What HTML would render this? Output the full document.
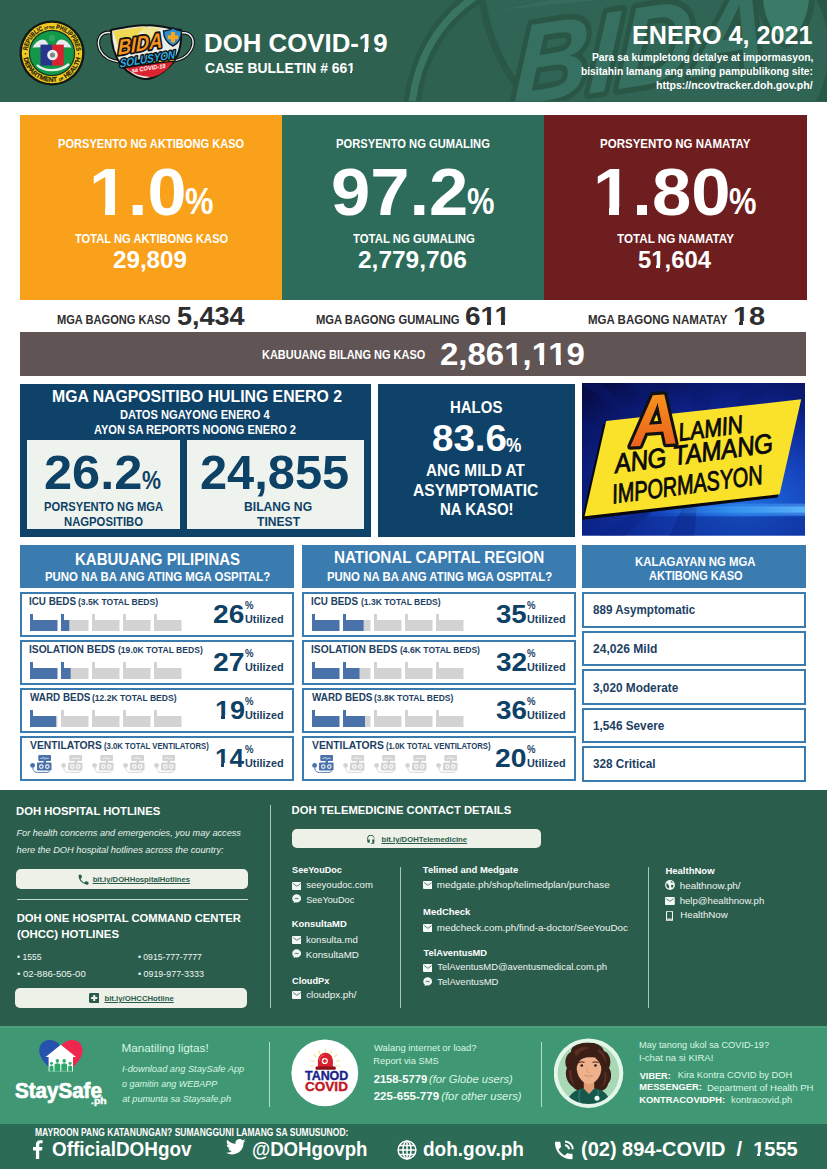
<!DOCTYPE html>
<html>
<head>
<meta charset="utf-8">
<title>DOH COVID-19 Case Bulletin 661</title>
<style>
*{margin:0;padding:0;box-sizing:border-box;}
html,body{width:827px;height:1169px;overflow:hidden;background:#fff;}
body{font-family:"Liberation Sans",sans-serif;position:relative;}
.a{position:absolute;}
.t{position:absolute;white-space:nowrap;font-weight:bold;line-height:1;transform-origin:0 50%;}
.row{position:absolute;border:2px solid #3b7cb0;background:#fff;}
.bed{position:absolute;width:27.5px;height:17px;}
.btn{position:absolute;background:#eef1e7;border-radius:5px;}
.vl{position:absolute;width:1px;background:#a9c7b9;}

</style>
</head>
<body>
<div class="a" style="left:0;top:0;width:827px;height:101.6px;background:#2f6151;overflow:hidden;">
<svg class="a" style="left:400px;top:0" width="427" height="101" viewBox="400 0 427 101">
<path d="M482 -2 C 488 40, 505 75, 532 103 L 830 103 L 830 -2 Z" fill="#306454"/>
<path d="M482 -2 C 488 40, 505 75, 532 103" fill="none" stroke="#2a5848" stroke-width="7"/>
<path d="M412 103 C 418 55, 440 20, 476 -4" fill="none" stroke="#2a5848" stroke-width="17"/>
<path d="M412 103 C 418 55, 440 20, 476 -4" fill="none" stroke="#3a7562" stroke-width="7"/>
<path d="M500 10 L 620 -2 L 560 -2 Z" fill="#3a7461" opacity="0.5"/>
<g font-family="Liberation Sans, sans-serif" font-weight="bold" font-style="italic">
<text x="512" y="106" font-size="112" fill="#2a5646" stroke="#2a5646" stroke-width="11" stroke-linejoin="round" transform="translate(512 106) rotate(-9) skewX(-12) translate(-512 -106)" textLength="258" lengthAdjust="spacingAndGlyphs">BIDA</text>
<text x="512" y="106" font-size="112" fill="#357060" transform="translate(512 106) rotate(-9) skewX(-12) translate(-512 -106)" textLength="258" lengthAdjust="spacingAndGlyphs">BIDA</text>
</g>
<path d="M760 -5 L 812 -5 C 812 20, 800 38, 786 46 C 772 38, 760 20, 760 -5 Z" fill="#3a7a66" stroke="#2a5848" stroke-width="6"/>
<path d="M822 -4 C 840 30, 840 70, 822 104" fill="none" stroke="#2a5848" stroke-width="14"/>
</svg>
<svg class="a" style="left:16px;top:17px" width="72" height="72" viewBox="-36 -36 72 72">
<circle r="32.6" fill="#121a14"/>
<circle r="30.2" fill="#f2c91f"/>
<circle r="23.2" fill="#17321f"/>
<circle r="22" fill="#13984a"/>
<defs><path id="arcT" d="M -24.5 0 A 24.5 24.5 0 0 1 24.5 0"/><path id="arcB" d="M -28.8 0 A 28.8 28.8 0 0 0 28.8 0"/></defs>
<text font-family="Liberation Sans, sans-serif" font-weight="bold" font-size="6.6" fill="#221d0a" stroke="#221d0a" stroke-width="0.2"><textPath href="#arcT" startOffset="2.5" textLength="72" lengthAdjust="spacingAndGlyphs">REPUBLIC <tspan font-size="3.4">OF THE</tspan> PHILIPPINES</textPath></text>
<text font-family="Liberation Sans, sans-serif" font-weight="bold" font-size="6.6" fill="#221d0a" stroke="#221d0a" stroke-width="0.2"><textPath href="#arcB" startOffset="5" textLength="80.500" lengthAdjust="spacingAndGlyphs">DEPARTMENT <tspan font-size="3.4">OF</tspan> HEALTH</textPath></text>
<circle cx="-26.600" cy="0.800" r="0.800" fill="#221d0a"/><circle cx="26.600" cy="0.800" r="0.800" fill="#221d0a"/>
<path d="M-19.500 -5.500 C -14 -14.500, -7 -16, -4 -9 L -4 -6 Z" fill="#e9e9f0"/>
<path d="M19.500 -5.500 C 14 -14.500, 7 -16, 4 -9 L 4 -6 Z" fill="#e9e9f0"/>
<circle cx="0" cy="-15" r="3.2" fill="#2fa560"/>
<rect x="-11.500" y="-8.400" width="11.700" height="21" fill="#27358a"/>
<rect x="0.200" y="-8.400" width="11.600" height="21" fill="#d8232f"/>
<circle cx="0.5" cy="2" r="5.3" fill="#eceef0"/>
<circle cx="0.5" cy="2" r="2.6" fill="#7b8a86"/>
<path d="M-15 12 C -8 19, 8 19, 17 11" fill="none" stroke="#e6efe9" stroke-width="2.4"/>
</svg>
<svg class="a" style="left:92px;top:20px" width="106" height="64" viewBox="92 20 106 64">
<path d="M113 33 C 100 30, 96 40, 100 50 C 104 58, 112 61, 120 62" fill="none" stroke="#111" stroke-width="3.6"/>
<path d="M113 33 C 100 30, 96 40, 100 50 C 104 58, 112 61, 120 62" fill="none" stroke="#e8eef0" stroke-width="1.4"/>
<path d="M180 33 C 192 31, 196 41, 191 50 C 187 57, 180 60, 173 61" fill="none" stroke="#111" stroke-width="3.6"/>
<path d="M180 33 C 192 31, 196 41, 191 50 C 187 57, 180 60, 173 61" fill="none" stroke="#e8eef0" stroke-width="1.4"/>
<path d="M111 30 C 128 27, 140 24, 146 25.5 C 154 24, 168 28, 181 30 C 182 45, 178 58, 170 66 C 160 76, 150 79, 146 79 C 138 79, 128 73, 122 66 C 114 56, 111 44, 111 30 Z" fill="#e9efe6" stroke="#111" stroke-width="2"/>
<path d="M113 31 L 146 26.5 L 120 52 Z" fill="#f0d53a" opacity="0.85"/>
<path d="M140 27 L 160 28 L 150 45 Z" fill="#f3e27a" opacity="0.8"/>
<path d="M118 62 C 135 60, 160 56, 176 56 C 174 61, 172 64, 169 67 C 155 68, 135 70, 124 68 Z" fill="#0d0d12"/>
<path d="M126 68 C 140 66, 160 63, 173 62 C 168 70, 160 75, 153 77 C 145 77, 134 75, 126 68 Z" fill="#dc2430"/>
<path d="M124 66.5 C 140 63.5, 160 60.5, 174 60" fill="none" stroke="#f2d22e" stroke-width="1.6"/>
<g font-family="Liberation Sans, sans-serif" font-weight="bold" font-style="italic">
<text x="118" y="55" font-size="21" fill="#111" stroke="#111" stroke-width="3.6" stroke-linejoin="round" transform="translate(118 55.500) rotate(-10) skewX(-10) translate(-118 -55.500)" textLength="45" lengthAdjust="spacingAndGlyphs">BIDA</text>
<text x="118" y="55" font-size="21" fill="#f7931e" transform="translate(118 55.500) rotate(-10) skewX(-10) translate(-118 -55.500)" textLength="45" lengthAdjust="spacingAndGlyphs">BIDA</text>
<text x="120" y="67.5" font-size="11.5" fill="#111" stroke="#111" stroke-width="3" stroke-linejoin="round" transform="translate(120 67.500) rotate(-9.500) skewX(-8) translate(-120 -67.500)" textLength="56" lengthAdjust="spacingAndGlyphs">SOLUSYON</text>
<text x="120" y="67.5" font-size="11.5" fill="#29abe2" transform="translate(120 67.500) rotate(-9.500) skewX(-8) translate(-120 -67.500)" textLength="56" lengthAdjust="spacingAndGlyphs">SOLUSYON</text>
<text x="132" y="72.5" font-size="6" fill="#fff" transform="rotate(-8 132 72.5)" textLength="34" lengthAdjust="spacingAndGlyphs">sa COVID-19</text>
</g>
<path d="M163.5 31 C 168 30.5, 171 29.5, 173 28 C 175 29.5, 178 30.5, 181.5 31 C 181.5 38, 179 43, 173 46 C 167 43, 163.5 38, 163.5 31 Z" fill="#2e8fd0" stroke="#10202e" stroke-width="1.4"/>
<path d="M171 32 h4 v3.2 h3.2 v4 h-3.2 v3.2 h-4 v-3.2 h-3.2 v-4 h3.2 Z" fill="#f7a521"/>
</svg>

</div>
<div class="a" style="left:20px;top:115px;width:262px;height:184.5px;background:#f9a11b;"></div>
<div class="a" style="left:282px;top:115px;width:262px;height:184.5px;background:#2d6c5a;"></div>
<div class="a" style="left:544px;top:115px;width:262.8px;height:184.5px;background:#6e1e1f;"></div>
<div class="a" style="left:20px;top:332px;width:786px;height:43.700px;background:#615455;"></div>
<div class="a" style="left:20px;top:384px;width:351px;height:153px;background:#0e4268;"></div>
<div class="a" style="left:26.6px;top:440px;width:153.6px;height:89px;background:#eef3ee;"></div>
<div class="a" style="left:186.8px;top:440px;width:177px;height:89px;background:#eef3ee;"></div>
<div class="a" style="left:378px;top:384px;width:197px;height:153px;background:#0e4268;"></div>
<svg class="a" style="left:582px;top:383.2px" width="223" height="152.6" viewBox="582 383.5 224 152.5" preserveAspectRatio="none">
<defs>
<radialGradient id="abg" cx="0.72" cy="0.8" r="1.0">
<stop offset="0" stop-color="#1f6ee0"/><stop offset="0.3" stop-color="#1648c2"/><stop offset="0.62" stop-color="#0d2490"/><stop offset="1" stop-color="#070d4a"/>
</radialGradient>
<linearGradient id="aglow" x1="0" y1="0" x2="1" y2="0">
<stop offset="0" stop-color="#2a8cf0" stop-opacity="0"/><stop offset="0.5" stop-color="#3aa0f5" stop-opacity="0.75"/><stop offset="1" stop-color="#62bcff" stop-opacity="1"/>
</linearGradient>
<linearGradient id="agr" x1="0" y1="0" x2="0" y2="1"><stop offset="0" stop-color="#f9a01e"/><stop offset="1" stop-color="#e9541b"/></linearGradient>
</defs>
<rect x="582" y="383.5" width="224" height="152.5" fill="url(#abg)"/>
<g fill="#0a1a70" opacity="0.4">
<path d="M700 470 L582 384 L600 384 Z"/><path d="M700 470 L630 384 L655 384 Z"/><path d="M700 470 L690 384 L715 384 Z"/><path d="M700 470 L750 384 L775 384 Z"/>
<path d="M700 470 L806 392 L806 412 Z"/><path d="M700 470 L582 420 L582 440 Z"/><path d="M700 470 L582 480 L582 500 Z"/><path d="M700 470 L600 536 L625 536 Z"/><path d="M700 470 L670 536 L695 536 Z"/>
</g>
<rect x="650" y="504" width="156" height="4" fill="url(#aglow)" opacity="0.45"/>
<rect x="650" y="507" width="156" height="6" fill="url(#aglow)" opacity="0.9"/>
<rect x="650" y="512" width="156" height="4" fill="url(#aglow)" opacity="0.45"/>
<rect x="582" y="517" width="224" height="19" fill="#0b2a90" opacity="0.5"/>
<path d="M603.500 424.500 L800.500 402.500 L778.500 498 L581.800 520.200 Z" fill="#07070f"/>
<path d="M606.300 421.500 L802.200 399.800 L780.500 494.700 L584.600 516.700 Z" fill="#fbe22a"/>
<g font-family="Liberation Sans, sans-serif" font-style="italic" fill="#0a0a0a">
<text x="632" y="447" font-size="72" font-weight="bold" fill="#111" stroke="#111" stroke-width="6.500" stroke-linejoin="round" transform="rotate(-4 632 447)" textLength="49" lengthAdjust="spacingAndGlyphs">A</text>
<text x="632" y="447" font-size="72" font-weight="bold" fill="url(#agr)" transform="rotate(-4 632 447)" textLength="49" lengthAdjust="spacingAndGlyphs">A</text>
<g stroke="#0a0a0a" stroke-width="0.900">
<text x="680" y="441.500" font-size="25" transform="rotate(-7.500 680 441.500)" textLength="65" lengthAdjust="spacingAndGlyphs">LAMIN</text>
<text x="616" y="473.500" font-size="27" transform="rotate(-7.500 616 473.500)" textLength="160" lengthAdjust="spacingAndGlyphs">ANG TAMANG</text>
<text x="613.500" y="504" font-size="27" transform="rotate(-7.500 613.500 504)" textLength="152" lengthAdjust="spacingAndGlyphs">IMPORMASYON</text>
</g>
</g>
</svg>

<div class="a" style="left:20px;top:545px;width:274px;height:42.5px;background:#3b7cb0;"></div>
<div class="a" style="left:302px;top:545px;width:274px;height:42.5px;background:#3b7cb0;"></div>
<div class="a" style="left:582px;top:545px;width:224px;height:42.5px;background:#3b7cb0;"></div>
<div class="row" style="left:20px;top:592px;width:274px;height:45px;"></div>
<svg class="a" style="left:30.0px;top:613.8px" width="27.5" height="17" viewBox="0 0 27.5 17"><path d="M0 0 H3 V6 H27.5 V17 H0 Z" fill="#4a72aa"/></svg>
<svg class="a" style="left:61.1px;top:613.8px" width="27.5" height="17" viewBox="0 0 27.5 17"><path d="M0 0 H3 V6 H27.5 V17 H0 Z" fill="#d3d3d3"/><path d="M0 0 H3 V6 H8.25 V17 H0 Z" fill="#4a72aa"/></svg>
<svg class="a" style="left:92.2px;top:613.8px" width="27.5" height="17" viewBox="0 0 27.5 17"><path d="M0 0 H3 V6 H27.5 V17 H0 Z" fill="#d3d3d3"/></svg>
<svg class="a" style="left:123.3px;top:613.8px" width="27.5" height="17" viewBox="0 0 27.5 17"><path d="M0 0 H3 V6 H27.5 V17 H0 Z" fill="#d3d3d3"/></svg>
<svg class="a" style="left:154.4px;top:613.8px" width="27.5" height="17" viewBox="0 0 27.5 17"><path d="M0 0 H3 V6 H27.5 V17 H0 Z" fill="#d3d3d3"/></svg>
<div class="row" style="left:20px;top:640px;width:274px;height:45px;"></div>
<svg class="a" style="left:30.0px;top:661.8px" width="27.5" height="17" viewBox="0 0 27.5 17"><path d="M0 0 H3 V6 H27.5 V17 H0 Z" fill="#4a72aa"/></svg>
<svg class="a" style="left:61.1px;top:661.8px" width="27.5" height="17" viewBox="0 0 27.5 17"><path d="M0 0 H3 V6 H27.5 V17 H0 Z" fill="#d3d3d3"/><path d="M0 0 H3 V6 H9.63 V17 H0 Z" fill="#4a72aa"/></svg>
<svg class="a" style="left:92.2px;top:661.8px" width="27.5" height="17" viewBox="0 0 27.5 17"><path d="M0 0 H3 V6 H27.5 V17 H0 Z" fill="#d3d3d3"/></svg>
<svg class="a" style="left:123.3px;top:661.8px" width="27.5" height="17" viewBox="0 0 27.5 17"><path d="M0 0 H3 V6 H27.5 V17 H0 Z" fill="#d3d3d3"/></svg>
<svg class="a" style="left:154.4px;top:661.8px" width="27.5" height="17" viewBox="0 0 27.5 17"><path d="M0 0 H3 V6 H27.5 V17 H0 Z" fill="#d3d3d3"/></svg>
<div class="row" style="left:20px;top:688px;width:274px;height:45px;"></div>
<svg class="a" style="left:30.0px;top:709.8px" width="27.5" height="17" viewBox="0 0 27.5 17"><path d="M0 0 H3 V6 H27.5 V17 H0 Z" fill="#d3d3d3"/><path d="M0 0 H3 V6 H26.12 V17 H0 Z" fill="#4a72aa"/></svg>
<svg class="a" style="left:61.1px;top:709.8px" width="27.5" height="17" viewBox="0 0 27.5 17"><path d="M0 0 H3 V6 H27.5 V17 H0 Z" fill="#d3d3d3"/></svg>
<svg class="a" style="left:92.2px;top:709.8px" width="27.5" height="17" viewBox="0 0 27.5 17"><path d="M0 0 H3 V6 H27.5 V17 H0 Z" fill="#d3d3d3"/></svg>
<svg class="a" style="left:123.3px;top:709.8px" width="27.5" height="17" viewBox="0 0 27.5 17"><path d="M0 0 H3 V6 H27.5 V17 H0 Z" fill="#d3d3d3"/></svg>
<svg class="a" style="left:154.4px;top:709.8px" width="27.5" height="17" viewBox="0 0 27.5 17"><path d="M0 0 H3 V6 H27.5 V17 H0 Z" fill="#d3d3d3"/></svg>
<div class="row" style="left:20px;top:736px;width:274px;height:45px;"></div>
<svg class="a" style="left:30.0px;top:755.1px" width="24" height="19" viewBox="0 0 24 19"><rect x="8.3" y="0" width="12.7" height="6" rx="0.8" fill="#4a72aa"/><path d="M10.3 3.300 h2.200 l0.900 -1.300 l1.300 2.300 l0.900 -1 h3.200" fill="none" stroke="#fff" stroke-width="0.700" opacity="0.900"/><rect x="13.6" y="5.800" width="2.400" height="2.200" fill="#4a72aa"/><rect x="7" y="7.600" width="14.500" height="8" rx="1" fill="#4a72aa"/><circle cx="11.300" cy="11.600" r="2.300" fill="#fff" opacity="0.920"/><circle cx="17.300" cy="11.600" r="2.300" fill="#fff" opacity="0.920"/><circle cx="11.300" cy="11.600" r="1.200" fill="#4a72aa"/><circle cx="17.300" cy="11.600" r="1.200" fill="#4a72aa"/><circle cx="2.600" cy="10.400" r="2.400" fill="#4a72aa"/><path d="M2.800 12.300 C 2.800 17.600, 6 17.500, 10 17.400 L 17 17.400 C 19 17.400, 19.300 16.500, 19.300 15.500" fill="none" stroke="#4a72aa" stroke-width="0.900"/></svg>
<svg class="a" style="left:61.1px;top:755.1px" width="24" height="19" viewBox="0 0 24 19"><rect x="8.3" y="0" width="12.7" height="6" rx="0.8" fill="#d3d3d3"/><path d="M10.3 3.300 h2.200 l0.900 -1.300 l1.300 2.300 l0.900 -1 h3.200" fill="none" stroke="#fff" stroke-width="0.700" opacity="0.900"/><rect x="13.6" y="5.800" width="2.400" height="2.200" fill="#d3d3d3"/><rect x="7" y="7.600" width="14.500" height="8" rx="1" fill="#d3d3d3"/><circle cx="11.300" cy="11.600" r="2.300" fill="#fff" opacity="0.920"/><circle cx="17.300" cy="11.600" r="2.300" fill="#fff" opacity="0.920"/><circle cx="11.300" cy="11.600" r="1.200" fill="#d3d3d3"/><circle cx="17.300" cy="11.600" r="1.200" fill="#d3d3d3"/><circle cx="2.600" cy="10.400" r="2.400" fill="#d3d3d3"/><path d="M2.800 12.300 C 2.800 17.600, 6 17.500, 10 17.400 L 17 17.400 C 19 17.400, 19.300 16.500, 19.300 15.500" fill="none" stroke="#d3d3d3" stroke-width="0.900"/></svg>
<svg class="a" style="left:92.2px;top:755.1px" width="24" height="19" viewBox="0 0 24 19"><rect x="8.3" y="0" width="12.7" height="6" rx="0.8" fill="#d3d3d3"/><path d="M10.3 3.300 h2.200 l0.900 -1.300 l1.300 2.300 l0.900 -1 h3.200" fill="none" stroke="#fff" stroke-width="0.700" opacity="0.900"/><rect x="13.6" y="5.800" width="2.400" height="2.200" fill="#d3d3d3"/><rect x="7" y="7.600" width="14.500" height="8" rx="1" fill="#d3d3d3"/><circle cx="11.300" cy="11.600" r="2.300" fill="#fff" opacity="0.920"/><circle cx="17.300" cy="11.600" r="2.300" fill="#fff" opacity="0.920"/><circle cx="11.300" cy="11.600" r="1.200" fill="#d3d3d3"/><circle cx="17.300" cy="11.600" r="1.200" fill="#d3d3d3"/><circle cx="2.600" cy="10.400" r="2.400" fill="#d3d3d3"/><path d="M2.800 12.300 C 2.800 17.600, 6 17.500, 10 17.400 L 17 17.400 C 19 17.400, 19.300 16.500, 19.300 15.500" fill="none" stroke="#d3d3d3" stroke-width="0.900"/></svg>
<svg class="a" style="left:123.3px;top:755.1px" width="24" height="19" viewBox="0 0 24 19"><rect x="8.3" y="0" width="12.7" height="6" rx="0.8" fill="#d3d3d3"/><path d="M10.3 3.300 h2.200 l0.900 -1.300 l1.300 2.300 l0.900 -1 h3.200" fill="none" stroke="#fff" stroke-width="0.700" opacity="0.900"/><rect x="13.6" y="5.800" width="2.400" height="2.200" fill="#d3d3d3"/><rect x="7" y="7.600" width="14.500" height="8" rx="1" fill="#d3d3d3"/><circle cx="11.300" cy="11.600" r="2.300" fill="#fff" opacity="0.920"/><circle cx="17.300" cy="11.600" r="2.300" fill="#fff" opacity="0.920"/><circle cx="11.300" cy="11.600" r="1.200" fill="#d3d3d3"/><circle cx="17.300" cy="11.600" r="1.200" fill="#d3d3d3"/><circle cx="2.600" cy="10.400" r="2.400" fill="#d3d3d3"/><path d="M2.800 12.300 C 2.800 17.600, 6 17.500, 10 17.400 L 17 17.400 C 19 17.400, 19.300 16.500, 19.300 15.500" fill="none" stroke="#d3d3d3" stroke-width="0.900"/></svg>
<svg class="a" style="left:154.4px;top:755.1px" width="24" height="19" viewBox="0 0 24 19"><rect x="8.3" y="0" width="12.7" height="6" rx="0.8" fill="#d3d3d3"/><path d="M10.3 3.300 h2.200 l0.900 -1.300 l1.300 2.300 l0.900 -1 h3.200" fill="none" stroke="#fff" stroke-width="0.700" opacity="0.900"/><rect x="13.6" y="5.800" width="2.400" height="2.200" fill="#d3d3d3"/><rect x="7" y="7.600" width="14.500" height="8" rx="1" fill="#d3d3d3"/><circle cx="11.300" cy="11.600" r="2.300" fill="#fff" opacity="0.920"/><circle cx="17.300" cy="11.600" r="2.300" fill="#fff" opacity="0.920"/><circle cx="11.300" cy="11.600" r="1.200" fill="#d3d3d3"/><circle cx="17.300" cy="11.600" r="1.200" fill="#d3d3d3"/><circle cx="2.600" cy="10.400" r="2.400" fill="#d3d3d3"/><path d="M2.800 12.300 C 2.800 17.600, 6 17.500, 10 17.400 L 17 17.400 C 19 17.400, 19.300 16.500, 19.300 15.500" fill="none" stroke="#d3d3d3" stroke-width="0.900"/></svg>
<div class="row" style="left:302px;top:592px;width:274px;height:45px;"></div>
<svg class="a" style="left:312.0px;top:613.8px" width="27.5" height="17" viewBox="0 0 27.5 17"><path d="M0 0 H3 V6 H27.5 V17 H0 Z" fill="#4a72aa"/></svg>
<svg class="a" style="left:343.1px;top:613.8px" width="27.5" height="17" viewBox="0 0 27.5 17"><path d="M0 0 H3 V6 H27.5 V17 H0 Z" fill="#d3d3d3"/><path d="M0 0 H3 V6 H20.62 V17 H0 Z" fill="#4a72aa"/></svg>
<svg class="a" style="left:374.2px;top:613.8px" width="27.5" height="17" viewBox="0 0 27.5 17"><path d="M0 0 H3 V6 H27.5 V17 H0 Z" fill="#d3d3d3"/></svg>
<svg class="a" style="left:405.3px;top:613.8px" width="27.5" height="17" viewBox="0 0 27.5 17"><path d="M0 0 H3 V6 H27.5 V17 H0 Z" fill="#d3d3d3"/></svg>
<svg class="a" style="left:436.4px;top:613.8px" width="27.5" height="17" viewBox="0 0 27.5 17"><path d="M0 0 H3 V6 H27.5 V17 H0 Z" fill="#d3d3d3"/></svg>
<div class="row" style="left:302px;top:640px;width:274px;height:45px;"></div>
<svg class="a" style="left:312.0px;top:661.8px" width="27.5" height="17" viewBox="0 0 27.5 17"><path d="M0 0 H3 V6 H27.5 V17 H0 Z" fill="#4a72aa"/></svg>
<svg class="a" style="left:343.1px;top:661.8px" width="27.5" height="17" viewBox="0 0 27.5 17"><path d="M0 0 H3 V6 H27.5 V17 H0 Z" fill="#d3d3d3"/><path d="M0 0 H3 V6 H16.50 V17 H0 Z" fill="#4a72aa"/></svg>
<svg class="a" style="left:374.2px;top:661.8px" width="27.5" height="17" viewBox="0 0 27.5 17"><path d="M0 0 H3 V6 H27.5 V17 H0 Z" fill="#d3d3d3"/></svg>
<svg class="a" style="left:405.3px;top:661.8px" width="27.5" height="17" viewBox="0 0 27.5 17"><path d="M0 0 H3 V6 H27.5 V17 H0 Z" fill="#d3d3d3"/></svg>
<svg class="a" style="left:436.4px;top:661.8px" width="27.5" height="17" viewBox="0 0 27.5 17"><path d="M0 0 H3 V6 H27.5 V17 H0 Z" fill="#d3d3d3"/></svg>
<div class="row" style="left:302px;top:688px;width:274px;height:45px;"></div>
<svg class="a" style="left:312.0px;top:709.8px" width="27.5" height="17" viewBox="0 0 27.5 17"><path d="M0 0 H3 V6 H27.5 V17 H0 Z" fill="#4a72aa"/></svg>
<svg class="a" style="left:343.1px;top:709.8px" width="27.5" height="17" viewBox="0 0 27.5 17"><path d="M0 0 H3 V6 H27.5 V17 H0 Z" fill="#d3d3d3"/><path d="M0 0 H3 V6 H22.00 V17 H0 Z" fill="#4a72aa"/></svg>
<svg class="a" style="left:374.2px;top:709.8px" width="27.5" height="17" viewBox="0 0 27.5 17"><path d="M0 0 H3 V6 H27.5 V17 H0 Z" fill="#d3d3d3"/></svg>
<svg class="a" style="left:405.3px;top:709.8px" width="27.5" height="17" viewBox="0 0 27.5 17"><path d="M0 0 H3 V6 H27.5 V17 H0 Z" fill="#d3d3d3"/></svg>
<svg class="a" style="left:436.4px;top:709.8px" width="27.5" height="17" viewBox="0 0 27.5 17"><path d="M0 0 H3 V6 H27.5 V17 H0 Z" fill="#d3d3d3"/></svg>
<div class="row" style="left:302px;top:736px;width:274px;height:45px;"></div>
<svg class="a" style="left:312.0px;top:755.1px" width="24" height="19" viewBox="0 0 24 19"><rect x="8.3" y="0" width="12.7" height="6" rx="0.8" fill="#4a72aa"/><path d="M10.3 3.300 h2.200 l0.900 -1.300 l1.300 2.300 l0.900 -1 h3.200" fill="none" stroke="#fff" stroke-width="0.700" opacity="0.900"/><rect x="13.6" y="5.800" width="2.400" height="2.200" fill="#4a72aa"/><rect x="7" y="7.600" width="14.500" height="8" rx="1" fill="#4a72aa"/><circle cx="11.300" cy="11.600" r="2.300" fill="#fff" opacity="0.920"/><circle cx="17.300" cy="11.600" r="2.300" fill="#fff" opacity="0.920"/><circle cx="11.300" cy="11.600" r="1.200" fill="#4a72aa"/><circle cx="17.300" cy="11.600" r="1.200" fill="#4a72aa"/><circle cx="2.600" cy="10.400" r="2.400" fill="#4a72aa"/><path d="M2.800 12.300 C 2.800 17.600, 6 17.500, 10 17.400 L 17 17.400 C 19 17.400, 19.300 16.500, 19.300 15.500" fill="none" stroke="#4a72aa" stroke-width="0.900"/></svg>
<svg class="a" style="left:343.1px;top:755.1px" width="24" height="19" viewBox="0 0 24 19"><rect x="8.3" y="0" width="12.7" height="6" rx="0.8" fill="#d3d3d3"/><path d="M10.3 3.300 h2.200 l0.900 -1.300 l1.300 2.300 l0.900 -1 h3.200" fill="none" stroke="#fff" stroke-width="0.700" opacity="0.900"/><rect x="13.6" y="5.800" width="2.400" height="2.200" fill="#d3d3d3"/><rect x="7" y="7.600" width="14.500" height="8" rx="1" fill="#d3d3d3"/><circle cx="11.300" cy="11.600" r="2.300" fill="#fff" opacity="0.920"/><circle cx="17.300" cy="11.600" r="2.300" fill="#fff" opacity="0.920"/><circle cx="11.300" cy="11.600" r="1.200" fill="#d3d3d3"/><circle cx="17.300" cy="11.600" r="1.200" fill="#d3d3d3"/><circle cx="2.600" cy="10.400" r="2.400" fill="#d3d3d3"/><path d="M2.800 12.300 C 2.800 17.600, 6 17.500, 10 17.400 L 17 17.400 C 19 17.400, 19.300 16.500, 19.300 15.500" fill="none" stroke="#d3d3d3" stroke-width="0.900"/></svg>
<svg class="a" style="left:374.2px;top:755.1px" width="24" height="19" viewBox="0 0 24 19"><rect x="8.3" y="0" width="12.7" height="6" rx="0.8" fill="#d3d3d3"/><path d="M10.3 3.300 h2.200 l0.900 -1.300 l1.300 2.300 l0.900 -1 h3.200" fill="none" stroke="#fff" stroke-width="0.700" opacity="0.900"/><rect x="13.6" y="5.800" width="2.400" height="2.200" fill="#d3d3d3"/><rect x="7" y="7.600" width="14.500" height="8" rx="1" fill="#d3d3d3"/><circle cx="11.300" cy="11.600" r="2.300" fill="#fff" opacity="0.920"/><circle cx="17.300" cy="11.600" r="2.300" fill="#fff" opacity="0.920"/><circle cx="11.300" cy="11.600" r="1.200" fill="#d3d3d3"/><circle cx="17.300" cy="11.600" r="1.200" fill="#d3d3d3"/><circle cx="2.600" cy="10.400" r="2.400" fill="#d3d3d3"/><path d="M2.800 12.300 C 2.800 17.600, 6 17.500, 10 17.400 L 17 17.400 C 19 17.400, 19.300 16.500, 19.300 15.500" fill="none" stroke="#d3d3d3" stroke-width="0.900"/></svg>
<svg class="a" style="left:405.3px;top:755.1px" width="24" height="19" viewBox="0 0 24 19"><rect x="8.3" y="0" width="12.7" height="6" rx="0.8" fill="#d3d3d3"/><path d="M10.3 3.300 h2.200 l0.900 -1.300 l1.300 2.300 l0.900 -1 h3.200" fill="none" stroke="#fff" stroke-width="0.700" opacity="0.900"/><rect x="13.6" y="5.800" width="2.400" height="2.200" fill="#d3d3d3"/><rect x="7" y="7.600" width="14.500" height="8" rx="1" fill="#d3d3d3"/><circle cx="11.300" cy="11.600" r="2.300" fill="#fff" opacity="0.920"/><circle cx="17.300" cy="11.600" r="2.300" fill="#fff" opacity="0.920"/><circle cx="11.300" cy="11.600" r="1.200" fill="#d3d3d3"/><circle cx="17.300" cy="11.600" r="1.200" fill="#d3d3d3"/><circle cx="2.600" cy="10.400" r="2.400" fill="#d3d3d3"/><path d="M2.800 12.300 C 2.800 17.600, 6 17.500, 10 17.400 L 17 17.400 C 19 17.400, 19.300 16.500, 19.300 15.500" fill="none" stroke="#d3d3d3" stroke-width="0.900"/></svg>
<svg class="a" style="left:436.4px;top:755.1px" width="24" height="19" viewBox="0 0 24 19"><rect x="8.3" y="0" width="12.7" height="6" rx="0.8" fill="#d3d3d3"/><path d="M10.3 3.300 h2.200 l0.900 -1.300 l1.300 2.300 l0.900 -1 h3.200" fill="none" stroke="#fff" stroke-width="0.700" opacity="0.900"/><rect x="13.6" y="5.800" width="2.400" height="2.200" fill="#d3d3d3"/><rect x="7" y="7.600" width="14.500" height="8" rx="1" fill="#d3d3d3"/><circle cx="11.300" cy="11.600" r="2.300" fill="#fff" opacity="0.920"/><circle cx="17.300" cy="11.600" r="2.300" fill="#fff" opacity="0.920"/><circle cx="11.300" cy="11.600" r="1.200" fill="#d3d3d3"/><circle cx="17.300" cy="11.600" r="1.200" fill="#d3d3d3"/><circle cx="2.600" cy="10.400" r="2.400" fill="#d3d3d3"/><path d="M2.800 12.300 C 2.800 17.600, 6 17.500, 10 17.400 L 17 17.400 C 19 17.400, 19.300 16.500, 19.300 15.500" fill="none" stroke="#d3d3d3" stroke-width="0.900"/></svg>
<div class="row" style="left:582px;top:592.0px;width:224px;height:35.6px;"></div>
<div class="row" style="left:582px;top:630.5px;width:224px;height:35.6px;"></div>
<div class="row" style="left:582px;top:669.0px;width:224px;height:35.6px;"></div>
<div class="row" style="left:582px;top:707.5px;width:224px;height:35.6px;"></div>
<div class="row" style="left:582px;top:746.0px;width:224px;height:35.6px;"></div>
<div class="a" style="left:0;top:790px;width:827px;height:237px;background:#2b5d4d;"></div>
<div class="a" style="left:0;top:1026px;width:827px;height:98px;background:#3f9873;"></div>
<div class="a" style="left:0;top:1026px;width:827px;height:1.5px;background:#4ba07e;"></div>
<div class="a" style="left:0;top:1124px;width:827px;height:45px;background:#2c6b56;"></div>
<!-- buttons -->
<div class="btn" style="left:15.7px;top:868.8px;width:232.4px;height:20px;"></div>
<div class="btn" style="left:14.7px;top:988.4px;width:232.4px;height:19.8px;"></div>
<div class="btn" style="left:291.6px;top:829.2px;width:249.5px;height:19px;"></div>
<!-- lines -->
<div class="a" style="left:17px;top:899.4px;width:231px;height:1px;background:#c5d9cd;"></div>
<div class="vl" style="left:270px;top:804.5px;height:203.5px;"></div>
<div class="vl" style="left:400.4px;top:867px;height:141px;"></div>
<div class="vl" style="left:648.3px;top:867px;height:141px;"></div>
<div class="vl" style="left:268.8px;top:1042px;height:65px;background:#b5dcc8;"></div>
<div class="vl" style="left:540.5px;top:1042px;height:65px;background:#b5dcc8;"></div>
<!-- button icons -->
<svg class="a" style="left:77.6px;top:873.8px" width="11" height="11.4" viewBox="2 2 20 20"><path fill="#2a5c4c" d="M6.6 10.8c1.4 2.8 3.8 5.1 6.6 6.6l2.2-2.2c.3-.3.7-.4 1-.2 1.1.4 2.3.6 3.600.6.600 0 1 .4 1 1V20c0 .6-.4 1-1 1C10.600 21 3 13.400 3 4c0-.6.400-1 1-1h3.500c.6 0 1 .4 1 1 0 1.300.2 2.500.6 3.600.1.300 0 .7-.2 1L6.600 10.800z"/></svg>
<svg class="a" style="left:88.8px;top:993px" width="10.4" height="10" viewBox="0 0 10.4 10"><rect width="10.4" height="10" rx="1.4" fill="#2a5c4c"/><path d="M4.200 2 h2 v2 h2.100 v2 h-2.100 v2 h-2 v-2 h-2.100 v-2 h2.100 Z" fill="#eef1e7"/></svg>
<svg class="a" style="left:366.300px;top:834px" width="10" height="10" viewBox="0 0 24 24"><path fill="#2a5c4c" d="M12 2a9 9 0 0 0-9 9v7a3 3 0 0 0 3 3h3v-8H5v-2a7 7 0 0 1 14 0v2h-4v8h3v1h-6v2h5a3 3 0 0 0 3-3v-10a9 9 0 0 0-9-9z"/></svg>
<svg class="a" style="left:291.7px;top:881.7px" width="9.8" height="8" viewBox="0 0 9.8 8"><rect width="9.8" height="8" rx="1" fill="#f4f8f4"/><path d="M1.200 1.700 L4.900 4.300 L8.600 1.700" fill="none" stroke="#2b5d4d" stroke-width="0.75"/></svg>
<svg class="a" style="left:291.7px;top:894.3px" width="9.400" height="9.400" viewBox="0 0 10 10"><path d="M5 0.300 C 2.300 0.300 0.300 2.200 0.300 4.700 C 0.300 6 0.900 7.200 1.900 8 V9.700 L3.500 8.800 C 4 8.950 4.500 9 5 9 C 7.700 9 9.700 7.100 9.700 4.700 C 9.700 2.200 7.700 0.300 5 0.300 Z" fill="#f2f7f3"/><path d="M2.200 5.900 L4.300 3.600 L5.500 4.700 L7.800 3.600 L5.700 5.900 L4.500 4.800 Z" fill="#2b5d4d"/></svg>
<svg class="a" style="left:291.7px;top:935.6px" width="9.8" height="8" viewBox="0 0 9.8 8"><rect width="9.8" height="8" rx="1" fill="#f4f8f4"/><path d="M1.200 1.700 L4.900 4.300 L8.600 1.700" fill="none" stroke="#2b5d4d" stroke-width="0.75"/></svg>
<svg class="a" style="left:291.7px;top:949.3px" width="9.400" height="9.400" viewBox="0 0 10 10"><path d="M5 0.300 C 2.300 0.300 0.300 2.200 0.300 4.700 C 0.300 6 0.900 7.200 1.900 8 V9.700 L3.500 8.800 C 4 8.950 4.500 9 5 9 C 7.700 9 9.700 7.100 9.700 4.700 C 9.700 2.200 7.700 0.300 5 0.300 Z" fill="#f2f7f3"/><path d="M2.200 5.900 L4.300 3.600 L5.500 4.700 L7.800 3.600 L5.700 5.900 L4.500 4.800 Z" fill="#2b5d4d"/></svg>
<svg class="a" style="left:291.7px;top:990.6px" width="9.8" height="8" viewBox="0 0 9.8 8"><rect width="9.8" height="8" rx="1" fill="#f4f8f4"/><path d="M1.200 1.700 L4.900 4.300 L8.600 1.700" fill="none" stroke="#2b5d4d" stroke-width="0.75"/></svg>
<svg class="a" style="left:422.7px;top:881.2px" width="9.8" height="8" viewBox="0 0 9.8 8"><rect width="9.8" height="8" rx="1" fill="#f4f8f4"/><path d="M1.200 1.700 L4.900 4.300 L8.600 1.700" fill="none" stroke="#2b5d4d" stroke-width="0.75"/></svg>
<svg class="a" style="left:422.7px;top:924.1px" width="9.8" height="8" viewBox="0 0 9.8 8"><rect width="9.8" height="8" rx="1" fill="#f4f8f4"/><path d="M1.200 1.700 L4.900 4.300 L8.600 1.700" fill="none" stroke="#2b5d4d" stroke-width="0.75"/></svg>
<svg class="a" style="left:422.7px;top:963.7px" width="9.8" height="8" viewBox="0 0 9.8 8"><rect width="9.8" height="8" rx="1" fill="#f4f8f4"/><path d="M1.200 1.700 L4.900 4.300 L8.600 1.700" fill="none" stroke="#2b5d4d" stroke-width="0.75"/></svg>
<svg class="a" style="left:422.7px;top:977.0px" width="9.400" height="9.400" viewBox="0 0 10 10"><path d="M5 0.300 C 2.300 0.300 0.300 2.200 0.300 4.700 C 0.300 6 0.900 7.200 1.900 8 V9.700 L3.500 8.800 C 4 8.950 4.500 9 5 9 C 7.700 9 9.700 7.100 9.700 4.700 C 9.700 2.200 7.700 0.300 5 0.300 Z" fill="#f2f7f3"/><path d="M2.200 5.900 L4.300 3.600 L5.500 4.700 L7.800 3.600 L5.700 5.900 L4.500 4.800 Z" fill="#2b5d4d"/></svg>
<svg class="a" style="left:664.8px;top:880.4px" width="10" height="10" viewBox="0 0 10 10"><circle cx="5" cy="5" r="4.900" fill="#f2f7f3"/><path d="M1.600 3.300 C 2.600 3.400 3.200 4 3.300 4.800 C 3.400 5.600 4.300 5.800 4.200 6.700 C 4.100 7.400 3.900 8 4.100 8.600 C 2.700 8.300 1.500 7 1.300 5.400 Z M5.700 1.100 C 6 1.700 5.600 2.300 6.200 2.600 C 6.800 2.900 7.300 2.400 7.900 2.800 C 7.400 1.900 6.700 1.300 5.700 1.100 Z M6.400 4.900 C 7 4.500 7.900 4.700 8.500 5.300 C 8.400 6.500 7.800 7.500 6.900 8.100 C 7 7.400 6.300 7.100 6.100 6.400 C 6 5.800 6 5.300 6.400 4.900 Z" fill="#2b5d4d"/></svg>
<svg class="a" style="left:665.2px;top:896.9px" width="9.8" height="8" viewBox="0 0 9.8 8"><rect width="9.8" height="8" rx="1" fill="#f4f8f4"/><path d="M1.200 1.700 L4.900 4.300 L8.600 1.700" fill="none" stroke="#2b5d4d" stroke-width="0.75"/></svg>
<svg class="a" style="left:666.3px;top:910.6px" width="7" height="10" viewBox="0 0 7 10"><rect x="0.500" y="0.300" width="6" height="9.400" rx="1.100" fill="none" stroke="#f2f7f3" stroke-width="1.100"/><rect x="1.200" y="7.600" width="4.600" height="1.200" fill="#f2f7f3"/></svg>
<!-- StaySafe heart -->
<svg class="a" style="left:38px;top:1039px" width="46" height="40" viewBox="0 0 46 40">
<defs><clipPath id="hl"><rect x="0" y="0" width="22.800" height="32.400"/></clipPath><clipPath id="hr"><rect x="22.800" y="0" width="23.200" height="32.400"/></clipPath>
<path id="hrt" d="M22.800 38.500 C 10 28 1.200 20 1.200 11.500 C 1.200 5 6 0.900 11.500 0.900 C 16 0.900 20.300 3.200 22.800 7.200 C 25.300 3.200 30 0.900 34.500 0.900 C 40 0.900 44.600 5 44.600 11.500 C 44.600 20 36 28 22.800 38.500 Z"/></defs>
<use href="#hrt" fill="#2452ad" clip-path="url(#hl)"/><use href="#hrt" fill="#ee2650" clip-path="url(#hr)"/>
<path d="M22.800 5.800 L38 18 L35 18 L35 32.400 L10.600 32.400 L10.600 18 L7.600 18 Z" fill="#fff"/>
<g fill="#2fa96b"><circle cx="13.500" cy="24.300" r="1.500"/><circle cx="19.400" cy="21.900" r="1.800"/><circle cx="26.200" cy="21.900" r="1.800"/><circle cx="32.100" cy="24.300" r="1.500"/>
<path d="M11.500 28 q0 -1.600 2 -1.600 q2 0 2 1.600 v4.400 h-4 Z"/><path d="M16.500 26 q0 -1.800 2.900 -1.800 q2.900 0 2.900 1.800 v6.400 h-5.800 Z"/><path d="M23.300 26 q0 -1.800 2.900 -1.800 q2.900 0 2.900 1.800 v6.400 h-5.800 Z"/><path d="M30.100 28 q0 -1.600 2 -1.600 q2 0 2 1.600 v4.400 h-4 Z"/></g>
</svg>
<!-- TANOD circle -->
<svg class="a" style="left:291px;top:1038.500px" width="68" height="68" viewBox="0 0 68 68">
<circle cx="33.800" cy="33.900" r="33.400" fill="#fff"/>
<g stroke="#f1dc78" stroke-width="1.100" stroke-linecap="round" opacity="0.85"><path d="M34.300 10.500 v3.200"/><path d="M27.800 11.800 l1.200 3"/><path d="M40.800 11.800 l-1.200 3"/><path d="M22.800 15.500 l2.300 2.300"/><path d="M45.800 15.500 l-2.300 2.300"/><path d="M20 21.500 l3 1"/><path d="M48.600 21.500 l-3 1"/><path d="M19.500 27 h3"/><path d="M49 27 h-3"/></g>
<path d="M26.900 28.200 v-7 a7.500 7.500 0 0 1 15 0 v7 Z" fill="#d9212e"/>
<path d="M28.300 21.500 a6 6 0 0 1 5 -5.600" fill="none" stroke="#ef5a5f" stroke-width="1"/>
<rect x="24.500" y="27.600" width="20.300" height="3.200" rx="1.200" fill="#8e121c"/>
<circle cx="33.800" cy="22" r="3.100" fill="#fff"/><path d="M33.100 20 h1.400 v1.300 h1.300 v1.400 h-1.300 v1.300 h-1.400 v-1.300 h-1.300 v-1.400 h1.300 Z" fill="#d9212e"/>
</svg>
<!-- KIRA avatar -->
<svg class="a" style="left:554px;top:1037.500px" width="70" height="71" viewBox="0 0 70 71">
<defs><clipPath id="kc"><circle cx="34.500" cy="35.200" r="30.800"/></clipPath></defs>
<circle cx="34.500" cy="35.200" r="34.800" fill="#e4f6e9"/>
<circle cx="34.500" cy="35.200" r="30.800" fill="#a8d8b6"/>
<g clip-path="url(#kc)">
<path d="M34 4.500 C 24 3, 17 8, 17 14 C 11 17, 10 26, 13 30 C 10 36, 13 45, 19 49 C 22 53, 28 54, 30 52 L 40 52 C 46 55, 53 52, 54 46 C 58 42, 58 34, 55 30 C 58 24, 56 15, 50 13 C 48 7, 41 4, 34 4.500 Z" fill="#3b1f17"/>
<path d="M20 14 C 24 9, 31 8, 36 10 C 30 11, 25 14, 22 19 Z M45 11 C 50 14, 53 20, 52 26 C 51 21, 48 16, 44 14 Z M15 32 C 14 38, 16 44, 21 47 C 18 42, 17 37, 18 33 Z M52 34 C 54 40, 52 46, 48 49 C 50 44, 51 39, 50 35 Z" fill="#5a2e22"/>
<path d="M11 72 C 12 58, 20 51.500, 30 50.300 L 35 55.500 L 40 50.300 C 50 51.500, 57 58, 58 72 Z" fill="#17584c"/>
<path d="M29.800 41 L 40.200 41 L 40.200 50.500 L 35 56 L 29.800 50.500 Z" fill="#e39d74"/>
<path d="M22.500 28 C 22 20, 28 16.500, 35 17 C 43 16.500, 48 21, 47.500 29 C 47.500 38, 42 45.500, 35 46 C 28 45.500, 22.500 38, 22.500 28 Z" fill="#efb18b"/>
<path d="M22 31 C 20.500 22, 25 16, 33 15.300 C 38 14.800, 43 17, 45 20.500 C 40 19.300, 32 18.300, 27 21.500 C 25 23, 23.500 26.500, 22 31 Z" fill="#3b1f17"/>
<path d="M43 18.500 C 47 20.500, 49 26, 48 32 C 47 27, 45 23, 41.500 20.300 Z" fill="#3b1f17"/>
<path d="M24.500 24.600 q3 -1.400 6 -0.300 M38.500 24.300 q3 -1.100 6 0.300" fill="none" stroke="#3b1f17" stroke-width="1"/>
<circle cx="27.800" cy="27.500" r="1.300" fill="#2b140e"/><circle cx="41.500" cy="27.500" r="1.300" fill="#2b140e"/>
<path d="M33.500 30 q-1 3.500 0.500 4.500 q1.500 0.600 2.500 -0.200" fill="none" stroke="#dc9670" stroke-width="0.900"/>
<path d="M30.500 37.600 q4 3 8.200 0 q-4 0.600 -8.200 0z" fill="#fff" stroke="#c9785a" stroke-width="0.700"/>
<path d="M26 52 C 24 58, 25 64, 28 68" fill="none" stroke="#3f8a79" stroke-width="0.900"/>
<path d="M44 52 C 45 55, 44 57.500, 43 58.500" fill="none" stroke="#3f8a79" stroke-width="0.900"/>
<circle cx="43" cy="60.300" r="2.500" fill="#f3f8f4"/>
</g>
</svg>
<!-- social icons -->
<svg class="a" style="left:32px;top:1140px" width="11" height="19" viewBox="0 0 11 19"><path d="M7.200 19 V10.400 H10 L10.500 7 H7.200 V4.900 C 7.200 3.900 7.500 3.300 8.900 3.300 H10.600 V0.300 C 10.300 0.250 9.300 0.150 8.100 0.150 C 5.600 0.150 3.900 1.700 3.900 4.500 V7 H1 V10.400 H3.900 V19 Z" fill="#fff"/></svg>
<svg class="a" style="left:226.300px;top:1139.200px" width="19.600" height="15.400" viewBox="0 0 24 19.500" preserveAspectRatio="none"><path fill="#fff" d="M24 2.300a9.800 9.800 0 0 1-2.800.8A4.900 4.900 0 0 0 23.300.4a9.900 9.900 0 0 1-3.100 1.200 4.900 4.900 0 0 0-8.400 4.500A14 14 0 0 1 1.700.9a4.900 4.900 0 0 0 1.500 6.600A4.900 4.900 0 0 1 1 6.900v.1a4.900 4.900 0 0 0 3.900 4.800 4.900 4.900 0 0 1-2.200.1 4.900 4.900 0 0 0 4.600 3.400A9.900 9.900 0 0 1 0 17.300a13.900 13.900 0 0 0 7.500 2.200c9.100 0 14-7.500 14-14v-.6A10 10 0 0 0 24 2.300z"/></svg>
<svg class="a" style="left:397px;top:1139.500px" width="20" height="20" viewBox="0 0 20 20"><g fill="none" stroke="#fff" stroke-width="1.500"><circle cx="10" cy="10" r="8.900"/><ellipse cx="10" cy="10" rx="4" ry="8.900"/><path d="M10 1 V19 M1.200 10 H18.800 M2.500 5.500 H17.500 M2.500 14.500 H17.500"/></g></svg>
<svg class="a" style="left:554.300px;top:1139.800px" width="20" height="20.500" viewBox="2 2 21 21"><path fill="#fff" d="M6.900 11.600c1.400 2.800 3.700 5 6.500 6.500l2.200-2.200c.3-.3.700-.4 1.100-.2 1.100.4 2.400.6 3.700.6.600 0 1.100.5 1.100 1.100v3.500c0 .6-.5 1.100-1.100 1.100C10.800 22 3 14.200 3 4.600c0-.6.500-1.100 1.100-1.100h3.600c.6 0 1.100.5 1.100 1.100 0 1.300.2 2.500.6 3.700.1.400 0 .8-.3 1.100L6.900 11.600z"/><path d="M13.500 3.300 a8.200 8.200 0 0 1 8.200 8.200 M13.500 7.300 a4.200 4.200 0 0 1 4.200 4.200" fill="none" stroke="#fff" stroke-width="2.100"/></svg>

<!-- TEXTS -->
<div class="t" style="left:203.52px;top:29.64px;font-size:26.70px;color:#fff;transform:scaleX(0.9672);">DOH COVID-19</div>
<div class="a" style="left:359.00px;top:48.18px;width:5.42px;height:5.32px;background:#2f6151;"></div>
<div class="a" style="left:367.97px;top:48.18px;width:5.29px;height:5.32px;background:#2f6151;"></div>
<div class="t" style="left:204.68px;top:61.02px;font-size:14.80px;color:#fff;transform:scaleX(0.9401);">CASE BULLETIN # 661</div>
<div class="a" style="left:347.08px;top:70.69px;width:3.06px;height:4.11px;background:#2f6151;"></div>
<div class="a" style="left:352.05px;top:70.69px;width:3.08px;height:4.11px;background:#2f6151;"></div>
<div class="t" style="left:631.87px;top:21.63px;font-size:26.60px;color:#fff;transform:scaleX(0.9459);">ENERO 4, 2021</div>
<div class="t" style="left:591.56px;top:51.72px;font-size:10.90px;color:#fff;transform:scaleX(0.9451);">Para sa kumpletong detalye at impormasyon,</div>
<div class="t" style="left:581.27px;top:65.92px;font-size:10.90px;color:#fff;transform:scaleX(0.9419);">bisitahin lamang ang aming pampublikong site:</div>
<div class="t" style="left:655.71px;top:79.82px;font-size:10.90px;color:#fff;transform:scaleX(0.9708);">https://ncovtracker.doh.gov.ph/</div>
<div class="t" style="left:57.71px;top:137.74px;font-size:12.30px;color:#fff;transform:scaleX(0.9024);">PORSYENTO NG AKTIBONG KASO</div>
<div class="t" style="left:336.20px;top:137.74px;font-size:12.30px;color:#fff;transform:scaleX(0.9091);">PORSYENTO NG GUMALING</div>
<div class="t" style="left:600.08px;top:137.74px;font-size:12.30px;color:#fff;transform:scaleX(0.9363);">PORSYENTO NG NAMATAY</div>
<div class="t" style="left:88.93px;top:158.79px;font-size:66.80px;color:#fff;transform:scaleX(1.0511);">1.0</div>
<div class="a" style="left:91.08px;top:207.19px;width:14.23px;height:9.41px;background:#f9a11b;"></div>
<div class="a" style="left:114.95px;top:207.19px;width:13.52px;height:9.41px;background:#f9a11b;"></div>
<div class="t" style="left:330.70px;top:158.79px;font-size:66.80px;color:#fff;transform:scaleX(1.0566);">97.2</div>
<div class="t" style="left:592.90px;top:158.79px;font-size:66.80px;color:#fff;transform:scaleX(1.0580);">1.80</div>
<div class="a" style="left:595.07px;top:207.19px;width:14.32px;height:9.41px;background:#6e1e1f;"></div>
<div class="a" style="left:619.09px;top:207.19px;width:13.60px;height:9.41px;background:#6e1e1f;"></div>
<div class="t" style="left:185.05px;top:183.95px;font-size:36.50px;color:#fff;transform:scaleX(0.8792);">%</div>
<div class="t" style="left:467.08px;top:183.95px;font-size:36.50px;color:#fff;transform:scaleX(0.8465);">%</div>
<div class="t" style="left:729.08px;top:183.95px;font-size:36.50px;color:#fff;transform:scaleX(0.8465);">%</div>
<div class="t" style="left:74.82px;top:232.84px;font-size:12.30px;color:#fff;transform:scaleX(0.9072);">TOTAL NG AKTIBONG KASO</div>
<div class="t" style="left:352.62px;top:232.84px;font-size:12.30px;color:#fff;transform:scaleX(0.9248);">TOTAL NG GUMALING</div>
<div class="t" style="left:616.52px;top:232.84px;font-size:12.30px;color:#fff;transform:scaleX(0.9472);">TOTAL NG NAMATAY</div>
<div class="t" style="left:113.41px;top:248.78px;font-size:23.00px;color:#fff;transform:scaleX(1.0508);">29,809</div>
<div class="t" style="left:358.30px;top:248.78px;font-size:23.00px;color:#fff;transform:scaleX(1.0636);">2,779,706</div>
<div class="t" style="left:637.52px;top:248.78px;font-size:23.00px;color:#fff;transform:scaleX(1.0384);">51,604</div>
<div class="a" style="left:651.32px;top:264.55px;width:5.04px;height:4.95px;background:#6e1e1f;"></div>
<div class="a" style="left:659.64px;top:264.55px;width:4.93px;height:4.95px;background:#6e1e1f;"></div>
<div class="t" style="left:56.91px;top:314.38px;font-size:12.60px;color:#2e2e30;transform:scaleX(0.8800);">MGA BAGONG KASO</div>
<div class="t" style="left:177.32px;top:303.04px;font-size:26.00px;color:#2e2e30;transform:scaleX(1.0399);">5,434</div>
<div class="t" style="left:316.10px;top:314.38px;font-size:12.60px;color:#2e2e30;transform:scaleX(0.8907);">MGA BAGONG GUMALING</div>
<div class="t" style="left:464.82px;top:303.04px;font-size:26.00px;color:#2e2e30;transform:scaleX(1.0775);">611</div>
<div class="a" style="left:481.08px;top:321.05px;width:5.86px;height:5.25px;background:#fff;"></div>
<div class="a" style="left:490.78px;top:321.05px;width:5.69px;height:5.25px;background:#fff;"></div>
<div class="a" style="left:495.12px;top:321.05px;width:5.86px;height:5.25px;background:#fff;"></div>
<div class="a" style="left:504.82px;top:321.05px;width:5.69px;height:5.25px;background:#fff;"></div>
<div class="t" style="left:587.68px;top:314.38px;font-size:12.60px;color:#2e2e30;transform:scaleX(0.9136);">MGA BAGONG NAMATAY</div>
<div class="t" style="left:732.63px;top:303.04px;font-size:26.00px;color:#2e2e30;transform:scaleX(1.1139);">18</div>
<div class="a" style="left:733.34px;top:321.05px;width:6.05px;height:5.25px;background:#fff;"></div>
<div class="a" style="left:743.36px;top:321.05px;width:5.87px;height:5.25px;background:#fff;"></div>
<div class="t" style="left:261.52px;top:347.54px;font-size:13.00px;color:#fff;transform:scaleX(0.8436);">KABUUANG BILANG NG KASO</div>
<div class="t" style="left:440.21px;top:338.16px;font-size:32.00px;color:#fff;transform:scaleX(1.0311);">2,861,119</div>
<div class="a" style="left:505.28px;top:360.64px;width:6.85px;height:5.86px;background:#615455;"></div>
<div class="a" style="left:516.65px;top:360.64px;width:6.62px;height:5.86px;background:#615455;"></div>
<div class="a" style="left:532.80px;top:360.64px;width:6.85px;height:5.86px;background:#615455;"></div>
<div class="a" style="left:544.17px;top:360.64px;width:6.62px;height:5.86px;background:#615455;"></div>
<div class="a" style="left:549.33px;top:360.64px;width:6.85px;height:5.86px;background:#615455;"></div>
<div class="a" style="left:560.70px;top:360.64px;width:6.62px;height:5.86px;background:#615455;"></div>
<div class="t" style="left:51.89px;top:388.84px;font-size:15.60px;color:#fff;transform:scaleX(1.0132);">MGA NAGPOSITIBO HULING ENERO 2</div>
<div class="t" style="left:120.40px;top:409.24px;font-size:12.30px;color:#fff;transform:scaleX(0.9059);">DATOS NGAYONG ENERO 4</div>
<div class="t" style="left:94.47px;top:423.74px;font-size:12.30px;color:#fff;transform:scaleX(0.8995);">AYON SA REPORTS NOONG ENERO 2</div>
<div class="t" style="left:44.40px;top:448.88px;font-size:47.80px;color:#0e4166;transform:scaleX(1.0575);">26.2</div>
<div class="t" style="left:142.32px;top:467.84px;font-size:25.40px;color:#0e4166;transform:scaleX(0.8413);">%</div>
<div class="t" style="left:44.20px;top:500.63px;font-size:12.90px;color:#0e4166;transform:scaleX(0.8671);">PORSYENTO NG MGA</div>
<div class="t" style="left:64.29px;top:515.63px;font-size:12.90px;color:#0e4166;transform:scaleX(0.8757);">NAGPOSITIBO</div>
<div class="t" style="left:200.06px;top:448.88px;font-size:47.80px;color:#0e4166;transform:scaleX(1.0201);">24,855</div>
<div class="t" style="left:244.44px;top:500.63px;font-size:12.90px;color:#0e4166;transform:scaleX(0.9411);">BILANG NG</div>
<div class="t" style="left:257.01px;top:515.63px;font-size:12.90px;color:#0e4166;transform:scaleX(0.9394);">TINEST</div>
<div class="t" style="left:449.85px;top:398.55px;font-size:16.30px;color:#fff;transform:scaleX(0.9193);">HALOS</div>
<div class="t" style="left:431.63px;top:419.81px;font-size:37.60px;color:#fff;transform:scaleX(1.0257);">83.6</div>
<div class="t" style="left:505.82px;top:434.72px;font-size:20.00px;color:#fff;transform:scaleX(0.8646);">%</div>
<div class="t" style="left:426.07px;top:462.05px;font-size:16.30px;color:#fff;transform:scaleX(0.9422);">ANG MILD AT</div>
<div class="t" style="left:413.36px;top:481.55px;font-size:16.30px;color:#fff;transform:scaleX(0.9598);">ASYMPTOMATIC</div>
<div class="t" style="left:439.95px;top:500.85px;font-size:16.30px;color:#fff;transform:scaleX(0.9202);">NA KASO!</div>
<div class="t" style="left:74.95px;top:552.07px;font-size:15.80px;color:#fff;transform:scaleX(0.9500);">KABUUANG PILIPINAS</div>
<div class="t" style="left:44.89px;top:570.99px;font-size:12.00px;color:#fff;transform:scaleX(0.9517);">PUNO NA BA ANG ATING MGA OSPITAL?</div>
<div class="t" style="left:334.33px;top:550.47px;font-size:15.80px;color:#fff;transform:scaleX(0.9638);">NATIONAL CAPITAL REGION</div>
<div class="t" style="left:326.89px;top:570.99px;font-size:12.00px;color:#fff;transform:scaleX(0.9513);">PUNO NA BA ANG ATING MGA OSPITAL?</div>
<div class="t" style="left:635.09px;top:554.57px;font-size:13.20px;color:#fff;transform:scaleX(0.8630);">KALAGAYAN NG MGA</div>
<div class="t" style="left:648.58px;top:569.37px;font-size:13.20px;color:#fff;transform:scaleX(0.8354);">AKTIBONG KASO</div>
<div class="t" style="left:29.29px;top:596.12px;font-size:10.90px;color:#1d3f63;transform:scaleX(0.9039);">ICU BEDS</div>
<div class="t" style="left:78.42px;top:598.07px;font-size:8.60px;color:#1d3f63;transform:scaleX(0.9992);">(3.5K TOTAL BEDS)</div>
<div class="t" style="left:213.27px;top:601.24px;font-size:26.00px;color:#0e4166;transform:scaleX(1.0819);">26</div>
<div class="t" style="left:245.01px;top:601.43px;font-size:10.30px;color:#1d3f63;transform:scaleX(0.9272);">%</div>
<div class="t" style="left:244.60px;top:614.21px;font-size:11.50px;color:#1d3f63;transform:scaleX(0.9432);">Utilized</div>
<div class="t" style="left:29.27px;top:644.12px;font-size:10.90px;color:#1d3f63;transform:scaleX(0.9390);">ISOLATION BEDS</div>
<div class="t" style="left:117.82px;top:646.07px;font-size:8.60px;color:#1d3f63;transform:scaleX(0.9971);">(19.0K TOTAL BEDS)</div>
<div class="t" style="left:213.27px;top:649.24px;font-size:26.00px;color:#0e4166;transform:scaleX(1.0901);">27</div>
<div class="t" style="left:245.01px;top:649.43px;font-size:10.30px;color:#1d3f63;transform:scaleX(0.9272);">%</div>
<div class="t" style="left:244.60px;top:662.21px;font-size:11.50px;color:#1d3f63;transform:scaleX(0.9432);">Utilized</div>
<div class="t" style="left:29.94px;top:692.12px;font-size:10.90px;color:#1d3f63;transform:scaleX(0.9074);">WARD BEDS</div>
<div class="t" style="left:91.92px;top:694.07px;font-size:8.60px;color:#1d3f63;transform:scaleX(0.9947);">(12.2K TOTAL BEDS)</div>
<div class="t" style="left:214.55px;top:697.24px;font-size:26.00px;color:#0e4166;transform:scaleX(1.0373);">19</div>
<div class="a" style="left:215.20px;top:715.25px;width:5.65px;height:5.25px;background:#fff;"></div>
<div class="a" style="left:224.55px;top:715.25px;width:5.50px;height:5.25px;background:#fff;"></div>
<div class="t" style="left:245.01px;top:697.43px;font-size:10.30px;color:#1d3f63;transform:scaleX(0.9272);">%</div>
<div class="t" style="left:244.60px;top:710.21px;font-size:11.50px;color:#1d3f63;transform:scaleX(0.9432);">Utilized</div>
<div class="t" style="left:29.88px;top:740.12px;font-size:10.90px;color:#1d3f63;transform:scaleX(0.9477);">VENTILATORS</div>
<div class="t" style="left:104.06px;top:742.07px;font-size:8.60px;color:#1d3f63;transform:scaleX(0.9018);">(3.0K TOTAL VENTILATORS)</div>
<div class="t" style="left:214.60px;top:745.24px;font-size:26.00px;color:#0e4166;transform:scaleX(1.0057);">14</div>
<div class="a" style="left:215.22px;top:763.25px;width:5.49px;height:5.25px;background:#fff;"></div>
<div class="a" style="left:224.29px;top:763.25px;width:5.35px;height:5.25px;background:#fff;"></div>
<div class="t" style="left:245.01px;top:745.43px;font-size:10.30px;color:#1d3f63;transform:scaleX(0.9272);">%</div>
<div class="t" style="left:244.60px;top:758.21px;font-size:11.50px;color:#1d3f63;transform:scaleX(0.9432);">Utilized</div>
<div class="t" style="left:311.19px;top:596.12px;font-size:10.90px;color:#1d3f63;transform:scaleX(0.9039);">ICU BEDS</div>
<div class="t" style="left:360.82px;top:598.07px;font-size:8.60px;color:#1d3f63;transform:scaleX(0.9929);">(1.3K TOTAL BEDS)</div>
<div class="t" style="left:495.62px;top:601.24px;font-size:26.00px;color:#0e4166;transform:scaleX(1.0615);">35</div>
<div class="t" style="left:527.01px;top:601.43px;font-size:10.30px;color:#1d3f63;transform:scaleX(0.9272);">%</div>
<div class="t" style="left:526.60px;top:614.21px;font-size:11.50px;color:#1d3f63;transform:scaleX(0.9432);">Utilized</div>
<div class="t" style="left:311.16px;top:644.12px;font-size:10.90px;color:#1d3f63;transform:scaleX(0.9401);">ISOLATION BEDS</div>
<div class="t" style="left:399.72px;top:646.07px;font-size:8.60px;color:#1d3f63;transform:scaleX(0.9967);">(4.6K TOTAL BEDS)</div>
<div class="t" style="left:495.61px;top:649.24px;font-size:26.00px;color:#0e4166;transform:scaleX(1.0739);">32</div>
<div class="t" style="left:527.01px;top:649.43px;font-size:10.30px;color:#1d3f63;transform:scaleX(0.9272);">%</div>
<div class="t" style="left:526.60px;top:662.21px;font-size:11.50px;color:#1d3f63;transform:scaleX(0.9432);">Utilized</div>
<div class="t" style="left:311.84px;top:692.12px;font-size:10.90px;color:#1d3f63;transform:scaleX(0.9074);">WARD BEDS</div>
<div class="t" style="left:374.13px;top:694.07px;font-size:8.60px;color:#1d3f63;transform:scaleX(0.9879);">(3.8K TOTAL BEDS)</div>
<div class="t" style="left:495.61px;top:697.24px;font-size:26.00px;color:#0e4166;transform:scaleX(1.0699);">36</div>
<div class="t" style="left:527.01px;top:697.43px;font-size:10.30px;color:#1d3f63;transform:scaleX(0.9272);">%</div>
<div class="t" style="left:526.60px;top:710.21px;font-size:11.50px;color:#1d3f63;transform:scaleX(0.9432);">Utilized</div>
<div class="t" style="left:311.78px;top:740.12px;font-size:10.90px;color:#1d3f63;transform:scaleX(0.9490);">VENTILATORS</div>
<div class="t" style="left:386.16px;top:742.07px;font-size:8.60px;color:#1d3f63;transform:scaleX(0.8992);">(1.0K TOTAL VENTILATORS)</div>
<div class="t" style="left:495.27px;top:745.24px;font-size:26.00px;color:#0e4166;transform:scaleX(1.0870);">20</div>
<div class="t" style="left:527.01px;top:745.43px;font-size:10.30px;color:#1d3f63;transform:scaleX(0.9272);">%</div>
<div class="t" style="left:526.60px;top:758.21px;font-size:11.50px;color:#1d3f63;transform:scaleX(0.9432);">Utilized</div>
<div class="t" style="left:593.38px;top:604.23px;font-size:12.90px;color:#1d3f63;transform:scaleX(0.9010);">889 Asymptomatic</div>
<div class="t" style="left:593.33px;top:642.83px;font-size:12.90px;color:#1d3f63;transform:scaleX(0.9363);">24,026 Mild</div>
<div class="t" style="left:593.48px;top:681.53px;font-size:12.90px;color:#1d3f63;transform:scaleX(0.9165);">3,020 Moderate</div>
<div class="t" style="left:593.01px;top:719.53px;font-size:12.90px;color:#1d3f63;transform:scaleX(0.9130);">1,546 Severe</div>
<div class="t" style="left:593.48px;top:757.83px;font-size:12.90px;color:#1d3f63;transform:scaleX(0.9099);">328 Critical</div>
<div class="t" style="left:16.00px;top:806.31px;font-size:11.27px;color:#fff;transform:scaleX(1.0000);">DOH HOSPITAL HOTLINES</div>
<div class="t" style="left:16.47px;top:828.99px;font-size:9.17px;color:#e8f0ea;font-weight:normal;font-style:italic;transform:scaleX(1.0000);">For health concerns and emergencies, you may access</div>
<div class="t" style="left:16.60px;top:845.80px;font-size:9.27px;color:#e8f0ea;font-weight:normal;font-style:italic;transform:scaleX(1.0000);">here the DOH hospital hotlines across the country:</div>
<div class="t" style="left:92.64px;top:875.96px;font-size:7.67px;color:#2a5c4c;transform:scaleX(1.0000);text-decoration:underline;">bit.ly/DOHHospitalHotlines</div>
<div class="t" style="left:16.70px;top:913.40px;font-size:11.28px;color:#fff;transform:scaleX(1.0000);">DOH ONE HOSPITAL COMMAND CENTER</div>
<div class="t" style="left:16.88px;top:929.07px;font-size:11.43px;color:#fff;transform:scaleX(1.0000);">(OHCC) HOTLINES</div>
<div class="t" style="left:17.11px;top:952.78px;font-size:8.59px;color:#eef4ef;font-weight:normal;transform:scaleX(1.0000);">• 1555</div>
<div class="t" style="left:137.91px;top:952.73px;font-size:8.64px;color:#eef4ef;font-weight:normal;transform:scaleX(1.0000);">• 0915-777-7777</div>
<div class="t" style="left:17.07px;top:969.06px;font-size:9.55px;color:#eef4ef;font-weight:normal;transform:scaleX(1.0000);">• 02-886-505-00</div>
<div class="t" style="left:137.90px;top:969.61px;font-size:8.91px;color:#eef4ef;font-weight:normal;transform:scaleX(1.0000);">• 0919-977-3333</div>
<div class="t" style="left:104.44px;top:994.79px;font-size:7.75px;color:#2a5c4c;transform:scaleX(1.0000);text-decoration:underline;">bit.ly/OHCCHotline</div>
<div class="t" style="left:291.60px;top:804.92px;font-size:11.25px;color:#fff;transform:scaleX(1.0000);">DOH TELEMEDICINE CONTACT DETAILS</div>
<div class="t" style="left:381.44px;top:835.51px;font-size:7.73px;color:#2a5c4c;transform:scaleX(1.0000);text-decoration:underline;">bit.ly/DOHTelemedicine</div>
<div class="t" style="left:292.09px;top:866.25px;font-size:9.09px;color:#fff;transform:scaleX(1.0000);">SeeYouDoc</div>
<div class="t" style="left:306.29px;top:879.51px;font-size:9.50px;color:#eef4ef;font-weight:normal;transform:scaleX(1.0000);">seeyoudoc.com</div>
<div class="t" style="left:306.13px;top:896.27px;font-size:9.19px;color:#eef4ef;font-weight:normal;transform:scaleX(1.0000);">SeeYouDoc</div>
<div class="t" style="left:291.72px;top:918.85px;font-size:9.45px;color:#fff;transform:scaleX(1.0000);">KonsultaMD</div>
<div class="t" style="left:305.90px;top:935.18px;font-size:9.65px;color:#eef4ef;font-weight:normal;transform:scaleX(1.0000);">konsulta.md</div>
<div class="t" style="left:305.75px;top:949.80px;font-size:9.75px;color:#eef4ef;font-weight:normal;transform:scaleX(1.0000);">KonsultaMD</div>
<div class="t" style="left:291.97px;top:976.73px;font-size:9.23px;color:#fff;transform:scaleX(1.0000);">CloudPx</div>
<div class="t" style="left:306.13px;top:990.10px;font-size:9.86px;color:#eef4ef;font-weight:normal;transform:scaleX(1.0000);">cloudpx.ph/</div>
<div class="t" style="left:422.84px;top:864.94px;font-size:9.46px;color:#fff;transform:scaleX(1.0000);">Telimed and Medgate</div>
<div class="t" style="left:436.79px;top:879.97px;font-size:9.90px;color:#eef4ef;font-weight:normal;transform:scaleX(1.0000);">medgate.ph/shop/telimedplan/purchase</div>
<div class="t" style="left:423.02px;top:907.32px;font-size:9.48px;color:#fff;transform:scaleX(1.0000);">MedCheck</div>
<div class="t" style="left:436.80px;top:922.66px;font-size:9.79px;color:#eef4ef;font-weight:normal;transform:scaleX(1.0000);">medcheck.com.ph/find-a-doctor/SeeYouDoc</div>
<div class="t" style="left:423.55px;top:949.27px;font-size:9.31px;color:#fff;transform:scaleX(1.0000);">TelAventusMD</div>
<div class="t" style="left:437.24px;top:962.04px;font-size:9.46px;color:#eef4ef;font-weight:normal;transform:scaleX(1.0000);">TelAventusMD@aventusmedical.com.ph</div>
<div class="t" style="left:437.24px;top:976.87px;font-size:9.54px;color:#eef4ef;font-weight:normal;transform:scaleX(1.0000);">TelAventusMD</div>
<div class="t" style="left:665.41px;top:865.78px;font-size:9.53px;color:#fff;transform:scaleX(1.0000);">HealthNow</div>
<div class="t" style="left:679.66px;top:881.08px;font-size:9.89px;color:#eef4ef;font-weight:normal;transform:scaleX(1.0000);">healthnow.ph/</div>
<div class="t" style="left:679.68px;top:895.50px;font-size:9.62px;color:#eef4ef;font-weight:normal;transform:scaleX(1.0000);">help@healthnow.ph</div>
<div class="t" style="left:680.25px;top:910.41px;font-size:9.73px;color:#eef4ef;font-weight:normal;transform:scaleX(1.0000);">HealthNow</div>
<div class="t" style="left:15.46px;top:1079.90px;font-size:21.20px;color:#fff;transform:scaleX(0.9707);-webkit-text-stroke:0.7px #fff;">StaySafe</div>
<div class="t" style="left:91.35px;top:1096.56px;font-size:9.20px;color:#fff;transform:scaleX(1.1282);-webkit-text-stroke:0.4px #fff;">.ph</div>
<div class="t" style="left:121.39px;top:1042.12px;font-size:11.73px;color:#d9f5e5;font-weight:normal;transform:scaleX(1.0000);">Manatiling ligtas!</div>
<div class="t" style="left:121.98px;top:1064.60px;font-size:9.27px;color:#d9f5e5;font-weight:normal;font-style:italic;transform:scaleX(1.0000);">I-download ang StaySafe App</div>
<div class="t" style="left:122.05px;top:1079.71px;font-size:9.02px;color:#d9f5e5;font-weight:normal;font-style:italic;transform:scaleX(1.0000);">o gamitin ang WEBAPP</div>
<div class="t" style="left:122.14px;top:1095.49px;font-size:9.17px;color:#d9f5e5;font-weight:normal;font-style:italic;transform:scaleX(1.0000);">at pumunta sa Staysafe.ph</div>
<div class="t" style="left:304.61px;top:1070.42px;font-size:12.20px;color:#1b1f8a;transform:scaleX(1.0194);-webkit-text-stroke:0.35px #1b1f8a;">TANOD</div>
<div class="t" style="left:304.69px;top:1081.22px;font-size:12.20px;color:#c4161f;transform:scaleX(1.1118);-webkit-text-stroke:0.35px #c4161f;">COVID</div>
<div class="t" style="left:374.01px;top:1042.95px;font-size:9.45px;color:#d9f5e5;font-weight:normal;transform:scaleX(1.0000);">Walang internet or load?</div>
<div class="t" style="left:373.28px;top:1057.33px;font-size:9.35px;color:#d9f5e5;font-weight:normal;transform:scaleX(1.0000);">Report via SMS</div>
<div class="t" style="left:373.66px;top:1073.76px;font-size:11.21px;color:#fff;transform:scaleX(1.0000);">2158-5779</div>
<div class="t" style="left:429.03px;top:1073.79px;font-size:11.17px;color:#d9f5e5;font-weight:normal;font-style:italic;transform:scaleX(1.0000);">(for Globe users)</div>
<div class="t" style="left:373.65px;top:1091.08px;font-size:11.54px;color:#fff;transform:scaleX(1.0000);">225-655-779</div>
<div class="t" style="left:441.22px;top:1091.28px;font-size:11.30px;color:#d9f5e5;font-weight:normal;font-style:italic;transform:scaleX(1.0000);">(for other users)</div>
<div class="t" style="left:639.09px;top:1041.35px;font-size:9.21px;color:#d9f5e5;font-weight:normal;transform:scaleX(1.0000);">May tanong ukol sa COVID-19?</div>
<div class="t" style="left:638.97px;top:1053.25px;font-size:9.57px;color:#d9f5e5;font-weight:normal;transform:scaleX(1.0000);">I-chat na si KIRA!</div>
<div class="t" style="left:639.79px;top:1071.62px;font-size:9.13px;color:#fff;transform:scaleX(1.0000);">VIBER:</div>
<div class="t" style="left:677.68px;top:1071.44px;font-size:9.34px;color:#d9f5e5;font-weight:normal;transform:scaleX(1.0000);">Kira Kontra COVID by DOH</div>
<div class="t" style="left:639.23px;top:1083.36px;font-size:9.31px;color:#fff;transform:scaleX(1.0000);">MESSENGER:</div>
<div class="t" style="left:706.97px;top:1083.17px;font-size:9.54px;color:#d9f5e5;font-weight:normal;transform:scaleX(1.0000);">Department of Health PH</div>
<div class="t" style="left:639.22px;top:1095.39px;font-size:9.40px;color:#fff;transform:scaleX(1.0000);">KONTRACOVIDPH:</div>
<div class="t" style="left:731.02px;top:1095.38px;font-size:9.42px;color:#d9f5e5;font-weight:normal;transform:scaleX(1.0000);">kontracovid.ph</div>
<div class="t" style="left:34.88px;top:1126.82px;font-size:10.90px;color:#fff;transform:scaleX(0.7816);">MAYROON PANG KATANUNGAN? SUMANGGUNI LAMANG SA SUMUSUNOD:</div>
<div class="t" style="left:52.28px;top:1137.97px;font-size:21.00px;color:#fff;transform:scaleX(0.8986);">OfficialDOHgov</div>
<div class="t" style="left:252.19px;top:1137.97px;font-size:21.00px;color:#fff;transform:scaleX(0.8869);">@DOHgovph</div>
<div class="t" style="left:422.87px;top:1137.97px;font-size:21.00px;color:#fff;transform:scaleX(0.9047);">doh.gov.ph</div>
<div class="t" style="left:580.55px;top:1137.97px;font-size:21.00px;color:#fff;transform:scaleX(0.9519);white-space:pre;">(02) 894-COVID  /  1555</div>
<div class="a" style="left:753.12px;top:1152.26px;width:4.27px;height:4.74px;background:#2c6b56;"></div>
<div class="a" style="left:760.13px;top:1152.26px;width:4.21px;height:4.74px;background:#2c6b56;"></div>
</body>
</html>
